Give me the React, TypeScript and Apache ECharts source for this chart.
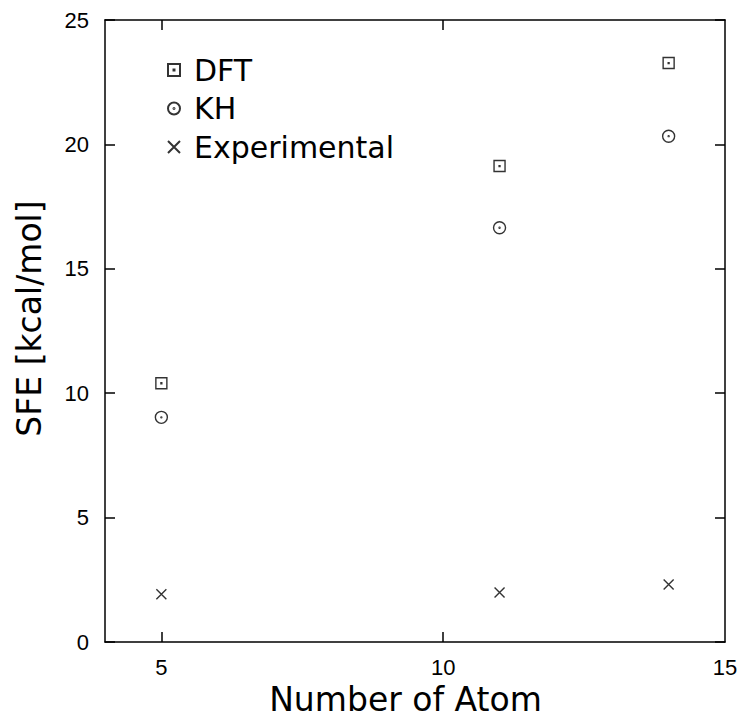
import React, { useEffect, useRef } from "react";
import * as echarts from "echarts";

const atoms = [5, 11, 14];
const dftValues = [10.4, 19.13, 23.27];
const khValues = [9.03, 16.65, 20.33];
const expValues = [1.92, 1.99, 2.31];
const xTickValues = [5, 10, 15];
const xInnerTicks = [5, 10];
const seriesNames = ["DFT", "KH", "Experimental"];

const SQUARE = "path://M0,0L10,0L10,10L0,10Z M4.6,4.6L5.4,4.6L5.4,5.4L4.6,5.4Z";
const CIRCLE =
  "path://M0,5A5,5,0,1,1,10,5A5,5,0,1,1,0,5Z M4.6,5A0.4,0.4,0,1,1,5.4,5A0.4,0.4,0,1,1,4.6,5Z";
const CROSS = "path://M0,0L10,10M10,0L0,10";

export default function App() {
  const ref = useRef<HTMLDivElement>(null);
  useEffect(() => {
    if (!ref.current) return;
    const chart = echarts.init(ref.current, undefined, { renderer: "svg" });
    const tickFont = "Liberation Sans, Arial, sans-serif";
    const titleFont = "DejaVu Sans, Verdana, sans-serif";
    const lineStyle = { color: "#000", width: 1.5 };
    const mk = (name: string, vals: number[], symbol: string, size: number) => ({
      name,
      type: "scatter",
      xAxisIndex: 0,
      yAxisIndex: 0,
      symbol,
      symbolSize: size,
      symbolKeepAspect: true,
      itemStyle: { color: "rgba(0,0,0,0)", borderColor: "#000", borderWidth: 1.4 },
      emphasis: { disabled: true },
      data: atoms.map((a, i) => [a, vals[i]]),
    });
    chart.setOption({
      animation: false,
      backgroundColor: "#fff",
      grid: { left: 105, right: 21, top: 20, bottom: 77, outerBoundsMode: "none", containLabel: false },
      legend: {
        orient: "vertical",
        left: 162,
        top: 50,
        itemWidth: 30,
        itemHeight: 12,
        itemGap: 8.5,
        data: seriesNames,
        textStyle: { fontFamily: titleFont, fontSize: 30, color: "#000" },
        selectedMode: false,
      },
      xAxis: [
        {
          type: "value",
          position: "bottom",
          min: 4,
          max: 15,
          name: "Number of Atom",
          nameLocation: "middle",
          nameGap: 40,
          nameTextStyle: {
            fontFamily: titleFont,
            fontSize: 33,
            color: "#000",
            padding: [0, 19, 0, 0],
          },
          axisLine: { onZero: false, lineStyle },
          axisTick: { inside: true, length: 10, lineStyle, customValues: xInnerTicks },
          axisLabel: {
            customValues: xTickValues,
            fontFamily: tickFont,
            fontSize: 22,
            color: "#000",
            margin: 14,
          },
          splitLine: { show: false },
        },
        {
          type: "value",
          position: "top",
          min: 4,
          max: 15,
          axisLine: { onZero: false, lineStyle },
          axisTick: { inside: true, length: 10, lineStyle, customValues: xInnerTicks },
          axisLabel: { show: false },
          splitLine: { show: false },
        },
      ],
      yAxis: [
        {
          type: "value",
          position: "left",
          min: 0,
          max: 25,
          interval: 5,
          name: "SFE [kcal/mol]",
          nameLocation: "middle",
          nameGap: 59,
          nameTextStyle: {
            fontFamily: titleFont,
            fontSize: 33,
            color: "#000",
            padding: [0, 0, 0, 25],
          },
          axisLine: { show: true, onZero: false, lineStyle },
          axisTick: { show: true, inside: true, length: 10, lineStyle },
          axisLabel: { fontFamily: tickFont, fontSize: 22, color: "#000", margin: 16 },
          splitLine: { show: false },
        },
        {
          type: "value",
          position: "right",
          min: 0,
          max: 25,
          interval: 5,
          axisLine: { show: true, onZero: false, lineStyle },
          axisTick: { show: true, inside: true, length: 10, lineStyle },
          axisLabel: { show: false },
          splitLine: { show: false },
        },
      ],
      series: [
        mk("DFT", dftValues, SQUARE, 11),
        mk("KH", khValues, CIRCLE, 12),
        mk("Experimental", expValues, CROSS, 10),
      ],
    });
    return () => chart.dispose();
  }, []);
  return <div ref={ref} style={{ width: 746, height: 719, position: "absolute", left: 0, top: 0 }} />;
}
